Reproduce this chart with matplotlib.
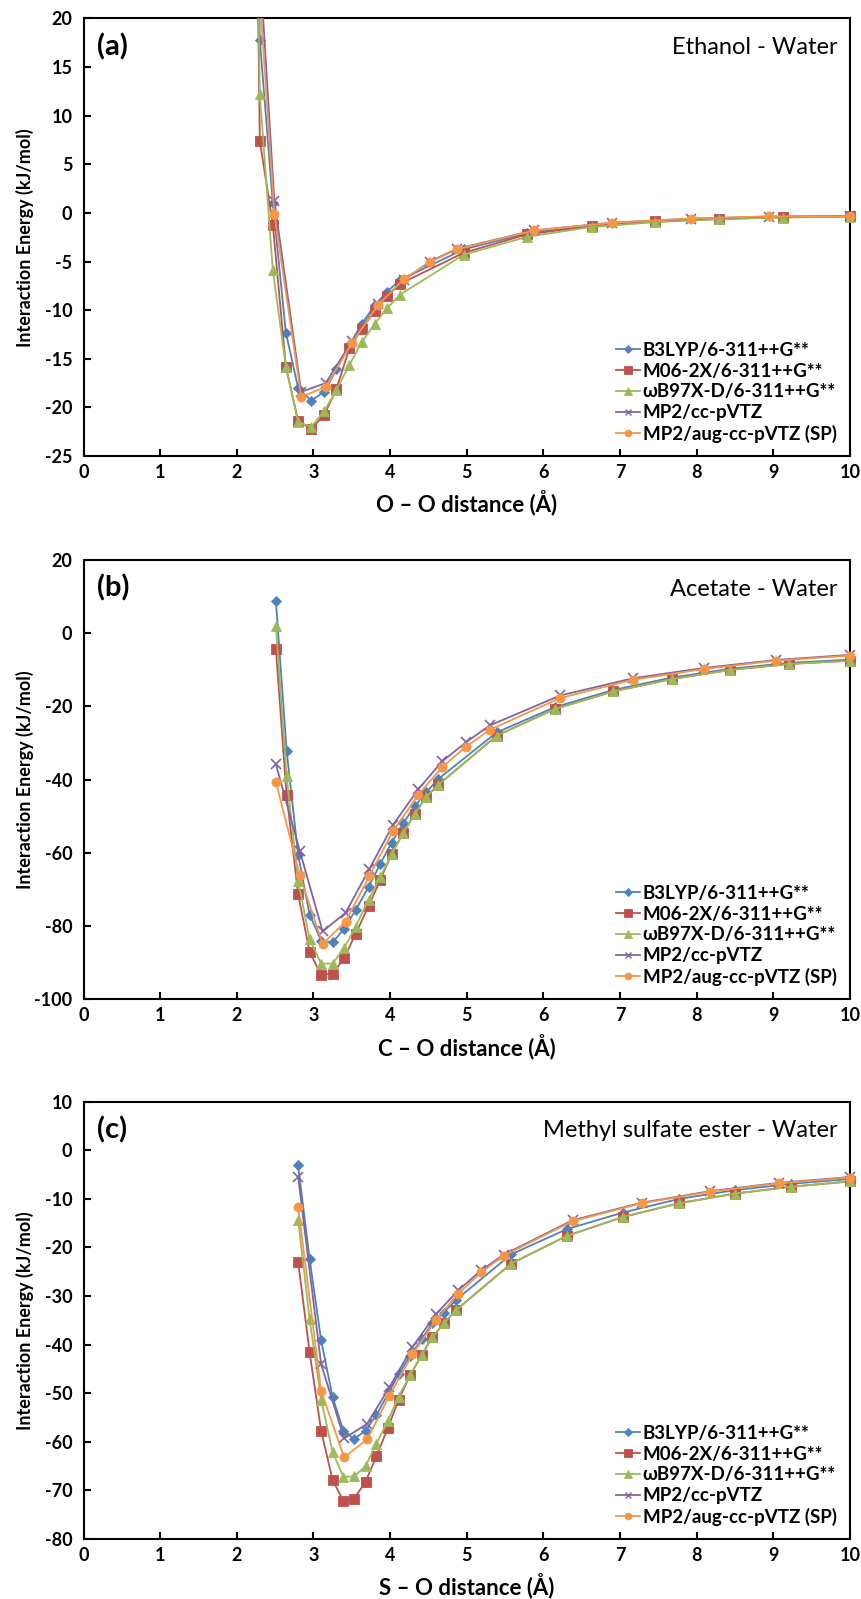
import numpy as np
import matplotlib.pyplot as plt
from matplotlib.lines import Line2D

plt.rcParams['font.family'] = ['Lato', 'DejaVu Sans']
plt.rcParams['font.weight'] = 'bold'
plt.rcParams['axes.unicode_minus'] = False

names = ['B3LYP/6-311++G**', 'M06-2X/6-311++G**', 'ωB97X-D/6-311++G**',
         'MP2/cc-pVTZ', 'MP2/aug-cc-pVTZ (SP)']
colors = ['#4F81BD', '#C0504D', '#9BBB59', '#8064A2', '#F79646']
markers = ['D', 's', '^', 'x', 'o']
msizes = [5.5, 7, 7.5, 6.5, 6.5]

# (a) ethanol - water
xa_dft = [2.13, 2.30, 2.47, 2.64, 2.80, 2.97, 3.14, 3.30, 3.47, 3.63, 3.80, 3.96, 4.13,
          4.96, 5.79, 6.63, 7.46, 8.29, 9.12, 10.0]
a_b3lyp = [95, 17.8, 1.0, -12.3, -18.0, -19.3, -18.4, -16.1, -13.6, -11.4, -9.5, -8.1, -6.9,
           -3.75, -2.1, -1.3, -0.9, -0.62, -0.45, -0.35]
a_m062x = [110, 7.4, -1.2, -15.8, -21.4, -22.2, -20.8, -18.1, -13.9, -11.9, -10.1, -8.5, -7.3,
           -4.1, -2.2, -1.36, -0.86, -0.58, -0.42, -0.35]
a_wb97 = [100, 12.2, -5.9, -15.8, -21.5, -22.0, -20.4, -18.2, -15.6, -13.3, -11.4, -9.8, -8.4,
          -4.3, -2.45, -1.45, -0.95, -0.65, -0.48, -0.38]
xa_mp2 = [2.15, 2.49, 2.84, 3.16, 3.50, 3.84, 4.18, 4.52, 4.87, 5.88, 6.90, 7.92, 8.94, 10.0]
a_mp2 = [45, 1.2, -18.4, -17.5, -13.2, -9.4, -6.9, -5.0, -3.7, -1.8, -1.0, -0.6, -0.38, -0.3]
a_mp2aug = [40, -0.1, -18.9, -17.9, -13.4, -9.5, -6.8, -5.05, -3.75, -1.8, -1.02, -0.58, -0.35, -0.35]

# (b) acetate - water
xb_dft = [2.51, 2.65, 2.80, 2.95, 3.10, 3.25, 3.40, 3.55, 3.72, 3.87, 4.02, 4.17, 4.32, 4.47,
          4.63, 5.39, 6.15, 6.91, 7.68, 8.44, 9.20, 10.0]
b_b3lyp = [8.8, -32.1, -60.6, -76.9, -84.0, -84.5, -80.8, -75.7, -69.3, -63.1, -57.2, -52.0,
           -47.3, -43.5, -39.8, -27.1, -20.2, -15.5, -12.1, -9.7, -8.1, -7.2]
b_m062x = [-4.3, -44.3, -71.3, -87.1, -93.4, -93.1, -88.8, -82.2, -74.5, -67.5, -60.3, -54.7,
           -49.4, -44.8, -41.4, -28.0, -20.7, -15.9, -12.5, -10.0, -8.4, -7.5]
b_wb97 = [2.0, -39.1, -67.6, -83.7, -90.3, -90.3, -86.1, -80.2, -72.8, -66.7, -60.3, -54.7,
          -49.4, -44.8, -41.4, -28.0, -20.7, -15.9, -12.5, -10.0, -8.4, -7.5]
xb_mp2 = [2.51, 2.82, 3.12, 3.42, 3.73, 4.04, 4.37, 4.68, 4.99, 5.30, 6.22, 7.17, 8.09, 9.03, 10.0]
b_mp2 = [-35.8, -59.4, -81.5, -76.4, -64.4, -52.3, -42.6, -35.0, -29.8, -25.2, -17.0, -12.3,
         -9.5, -7.3, -5.9]
b_mp2aug = [-40.7, -66.2, -84.9, -78.8, -66.3, -54.0, -44.1, -36.6, -31.0, -26.4, -17.7, -12.7,
            -9.8, -7.5, -6.1]

# (c) methyl sulfate ester - water
xc_dft = [2.80, 2.95, 3.10, 3.25, 3.39, 3.53, 3.68, 3.82, 3.97, 4.11, 4.26, 4.41, 4.55, 4.70,
          4.86, 5.58, 6.31, 7.04, 7.77, 8.50, 9.23, 10.0]
c_b3lyp = [-3.1, -22.4, -39.1, -50.8, -57.7, -59.4, -57.7, -54.5, -50.2, -46.1, -42.3, -38.9,
           -35.6, -33.4, -30.8, -21.4, -16.2, -12.8, -10.0, -8.2, -6.9, -5.9]
c_m062x = [-22.9, -41.6, -57.7, -67.9, -72.1, -71.7, -68.2, -63.0, -57.2, -51.4, -46.3, -42.2,
           -38.5, -35.6, -32.9, -23.3, -17.6, -13.7, -10.9, -8.9, -7.5, -6.4]
c_wb97 = [-14.3, -34.8, -51.3, -62.1, -67.2, -67.1, -65.0, -60.4, -55.7, -50.7, -46.3, -42.2,
          -38.5, -35.6, -32.9, -23.3, -17.6, -13.7, -10.9, -8.9, -7.5, -6.4]
xc_mp2 = [2.80, 3.10, 3.40, 3.70, 3.99, 4.29, 4.60, 4.89, 5.19, 5.48, 6.38, 7.28, 8.18, 9.07, 10.0]
c_mp2 = [-5.4, -44.0, -59.3, -56.3, -48.8, -40.5, -33.7, -28.8, -24.7, -21.5, -14.4, -10.8,
         -8.4, -6.7, -5.5]
c_mp2aug = [-11.6, -49.5, -63.2, -59.5, -50.5, -42.0, -34.9, -29.5, -25.1, -21.7, -14.6, -10.9,
            -8.5, -6.8, -5.6]

panels = [
    ('(a)', 'Ethanol - Water', 'O – O distance (Å)', (-25, 20), 5,
     xa_dft, [a_b3lyp, a_m062x, a_wb97], xa_mp2, [a_mp2, a_mp2aug]),
    ('(b)', 'Acetate - Water', 'C – O distance (Å)', (-100, 20), 20,
     xb_dft, [b_b3lyp, b_m062x, b_wb97], xb_mp2, [b_mp2, b_mp2aug]),
    ('(c)', 'Methyl sulfate ester - Water', 'S – O distance (Å)', (-80, 10), 10,
     xc_dft, [c_b3lyp, c_m062x, c_wb97], xc_mp2, [c_mp2, c_mp2aug]),
]
rects = [[0.097, 0.7148, 0.8902, 0.2737],
         [0.097, 0.3752, 0.8902, 0.2745],
         [0.097, 0.0375, 0.8902, 0.2735]]

fig = plt.figure(figsize=(8.61, 15.99), dpi=100)

for rect, (tag, title, xlab, ylim, step, xd, dft, xm, mp2) in zip(rects, panels):
    ax = fig.add_axes(rect)
    series = [(xd, y) for y in dft] + [(xm, y) for y in mp2]
    for i, ((x, y), c, m, ms) in enumerate(zip(series, colors, markers, msizes)):
        x = np.array(x)
        y = np.array(y)
        ax.plot(x, y, color=c, lw=1.3, zorder=2 + i)
        keep = (y <= ylim[1]) & (y >= ylim[0])
        ax.plot(x[keep], y[keep], ls='none', marker=m, ms=ms, color=c, mec=c,
                mew=1.2 if m == 'x' else 0.6, clip_on=False, zorder=2.5 + i)

    ax.set_xlim(0, 10)
    ax.set_ylim(*ylim)
    ax.set_xticks(range(11))
    ax.set_yticks(np.arange(ylim[0], ylim[1] + 1, step))
    ax.tick_params(direction='in', length=5, width=1.5, labelsize=13)
    ax.tick_params(axis='x', pad=6)
    ax.tick_params(axis='y', pad=8)
    for s in ax.spines.values():
        s.set_linewidth(1.5)

    ax.set_xlabel(xlab, fontsize=16, fontweight='bold')
    ax.xaxis.set_label_coords(0.5, -47 / 438)
    ax.xaxis.label.set_va('center')
    ax.set_ylabel('Interaction Energy (kJ/mol)', fontsize=13, fontweight='bold')
    ax.yaxis.set_label_coords(-58.5 / 766.5, 0.5)
    ax.yaxis.label.set_va('center')

    ax.text(0.0176, 0.936, tag, transform=ax.transAxes, fontsize=21,
            fontweight='bold', ha='left', va='center')
    ax.text(0.984, 0.934, title, transform=ax.transAxes, fontsize=17,
            fontweight='normal', ha='right', va='center')

    handles = [Line2D([], [], color=c, lw=1.3, marker=m, ms=ms * 0.75,
                      mew=1.0 if m == 'x' else 0.6)
               for c, m, ms in zip(colors, markers, msizes)]
    ax.legend(handles, names, loc='lower right', frameon=False, fontsize=13.5,
              handlelength=1.3, handletextpad=0.15, labelspacing=0.2,
              borderaxespad=0.55, borderpad=0.15)

fig.savefig('out.png', dpi=100)
